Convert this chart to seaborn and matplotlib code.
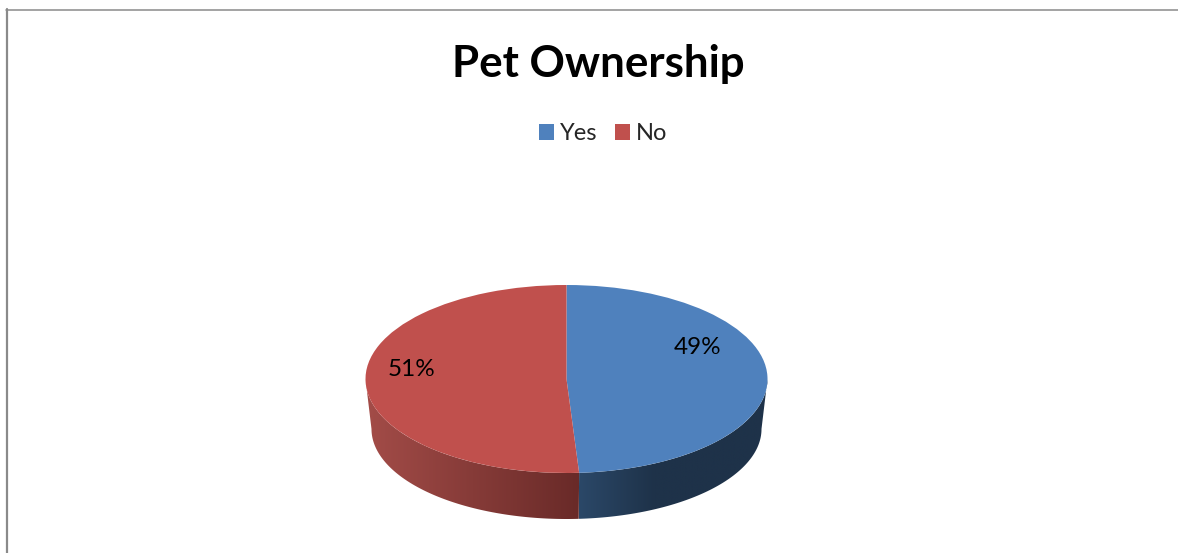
import numpy as np
import matplotlib
matplotlib.use("Agg")
import matplotlib.pyplot as plt
from matplotlib.colors import LinearSegmentedColormap
from matplotlib.lines import Line2D
from matplotlib.patches import Polygon
import seaborn as sns

categories = ["Yes", "No"]
shares = [49, 51]
top_colors = ["#4f81bd", "#c0504d"]
title = "Pet Ownership"

sns.set_theme(style="white")
plt.rcParams["font.family"] = ["Lato", "DejaVu Sans"]

W, H = 1178, 553
fig = plt.figure(figsize=(W / 100, H / 100), dpi=100, facecolor="white")
ax = fig.add_axes([0, 0, 1, 1])

# Top face of the pie: radius 1 in data units, stretched to an ellipse by the limits.
CX, CY, RX, RY = 566.5, 379.0, 201.0, 94.0
wedges, _ = ax.pie(shares, colors=sns.color_palette(top_colors), startangle=90,
                   counterclock=False, wedgeprops={"linewidth": 0, "zorder": 3})
ax.set_aspect("auto")


def limits():
    ax.set_xlim(-CX / RX, (W - CX) / RX)
    ax.set_ylim((CY - H) / RY, CY / RY)


limits()

# Side wall: the lower rim of the top face joined to a smaller, lower rim.
LOW_SX, LOW_SY, LOW_DY = 195 / 201, 90 / 94, -50 / 94
split = np.deg2rad(90 - 360 * shares[0] / sum(shares))


def wall(a0, a1):
    t = np.linspace(a0, a1, 200)
    upper = np.column_stack([np.cos(t), np.sin(t)])
    lower = np.column_stack([LOW_SX * np.cos(t[::-1]), LOW_SY * np.sin(t[::-1]) + LOW_DY])
    return np.vstack([upper, lower])


def shaded(points, stops, color_list):
    x0, x1 = points[:, 0].min(), points[:, 0].max()
    cmap = LinearSegmentedColormap.from_list("wall", list(zip(stops, color_list)))
    img = ax.imshow(np.linspace(0, 1, 256)[None, :], cmap=cmap, aspect="auto", zorder=2,
                    extent=[x0, x1, points[:, 1].min(), points[:, 1].max()],
                    interpolation="bilinear")
    img.set_clip_path(Polygon(points, closed=True, transform=ax.transData))


shaded(wall(split, 0), [0, 0.4, 1], ["#2b4868", "#1e3249", "#1e3249"])
shaded(wall(-np.pi, split), [0, 1], ["#a34c48", "#692a28"])
limits()
ax.axis("off")

# Percentage labels on the top face
ax.text((698 - CX) / RX, (CY - 347) / RY, f"{shares[0]}%", ha="center", va="center",
        fontsize=17.5, color="black", zorder=5)
ax.text((412 - CX) / RX, (CY - 369) / RY, f"{shares[1]}%", ha="center", va="center",
        fontsize=17.5, color="black", zorder=5)

fig.text(598 / W, 1 - 63.5 / H, title, ha="center", va="center", fontsize=31.6,
         fontweight="bold", color="black")

fig.legend(wedges, categories, loc="center", bbox_to_anchor=(603 / W, 1 - 134 / H),
           ncols=2, frameon=False, fontsize=17, handlelength=0.64, handleheight=0.64,
           handletextpad=0.23, columnspacing=0.75, borderpad=0)

# Chart-area border along the left and top edges
border = "#8a8a8a"
fig.add_artist(Line2D([7 / W, 7 / W], [0, 1 - 9 / H], color=border, lw=1.6, transform=fig.transFigure))
fig.add_artist(Line2D([6 / W, 1], [1 - 9.5 / H, 1 - 9.5 / H], color=border, lw=1.1, transform=fig.transFigure))

fig.savefig("out.png", dpi=100)
